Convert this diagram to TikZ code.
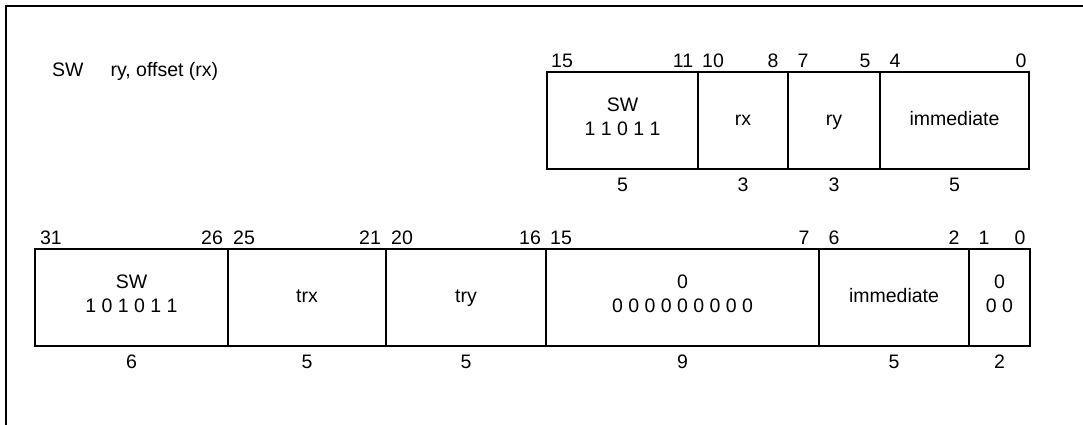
\documentclass[tikz,border=0pt]{standalone}
\usepackage{fontspec}
\setmainfont{Liberation Sans}
\usepackage{tikz}
\usetikzlibrary{positioning}

\begin{document}
\begin{tikzpicture}[
  x=1pt, y=1pt,
  field/.style={rectangle, draw, line width=1.8pt, outer sep=0pt, inner sep=0pt,
                minimum height=97pt, align=center, execute at end node=\strut,
                font=\fontsize{19.5pt}{24pt}\selectfont},
  bitno/.style={inner sep=0pt, font=\fontsize{19.5pt}{24pt}\selectfont},
  frame/.style={line width=2.5pt}
]
  \useasboundingbox (0,0) rectangle (1083,425);
  \draw[frame] (6,0) -- (6,419) -- (1083,419);

  \node[bitno, anchor=west] (asm) at (52,354) {SW\hspace{27pt}ry, offset (rx)};

  \node[field, minimum width=151pt] (sw16) at (622.5,304.5) {SW\\1 1 0 1 1};
  \node[field, minimum width=90pt, right=0pt of sw16] (rx16) {rx};
  \node[field, minimum width=92pt, right=0pt of rx16] (ry16) {ry};
  \node[field, minimum width=149pt, right=0pt of ry16] (imm16) {immediate};

  \node[bitno] (t15) at ([xshift=15pt, yshift=11pt]sw16.north west) {15};
  \node[bitno] (t11) at ([xshift=-15pt, yshift=11pt]sw16.north east) {11};
  \node[bitno] (t10) at ([xshift=15pt, yshift=11pt]rx16.north west) {10};
  \node[bitno] (t8) at ([xshift=-15pt, yshift=11pt]rx16.north east) {8};
  \node[bitno] (t7) at ([xshift=15pt, yshift=11pt]ry16.north west) {7};
  \node[bitno] (t5) at ([xshift=-15pt, yshift=11pt]ry16.north east) {5};
  \node[bitno] (t4) at ([xshift=15pt, yshift=11pt]imm16.north west) {4};
  \node[bitno] (t0) at ([xshift=-8pt, yshift=11pt]imm16.north east) {0};

  \node[bitno] (w1) at ([yshift=-16pt]sw16.south) {5};
  \node[bitno] (w2) at ([yshift=-16pt]rx16.south) {3};
  \node[bitno] (w3) at ([yshift=-16pt]ry16.south) {3};
  \node[bitno] (w4) at ([yshift=-16pt]imm16.south) {5};

  \node[field, minimum width=193pt] (sw32) at (131.5,127.5) {SW\\1 0 1 0 1 1};
  \node[field, minimum width=158pt, right=0pt of sw32] (trx) {trx};
  \node[field, minimum width=160pt, right=0pt of trx] (try) {try};
  \node[field, minimum width=273pt, right=0pt of try] (zero) {0\\0 0 0 0 0 0 0 0 0};
  \node[field, minimum width=150pt, right=0pt of zero] (imm32) {immediate};
  \node[field, minimum width=61pt, right=0pt of imm32] (low) {0\\0 0};

  \node[bitno] (b31) at ([xshift=16pt, yshift=11pt]sw32.north west) {31};
  \node[bitno] (b26) at ([xshift=-16pt, yshift=11pt]sw32.north east) {26};
  \node[bitno] (b25) at ([xshift=16pt, yshift=11pt]trx.north west) {25};
  \node[bitno] (b21) at ([xshift=-16pt, yshift=11pt]trx.north east) {21};
  \node[bitno] (b20) at ([xshift=16pt, yshift=11pt]try.north west) {20};
  \node[bitno] (b16) at ([xshift=-16pt, yshift=11pt]try.north east) {16};
  \node[bitno] (b15) at ([xshift=15pt, yshift=11pt]zero.north west) {15};
  \node[bitno] (b7) at ([xshift=-15pt, yshift=11pt]zero.north east) {7};
  \node[bitno] (b6) at ([xshift=15pt, yshift=11pt]imm32.north west) {6};
  \node[bitno] (b2) at ([xshift=-15pt, yshift=11pt]imm32.north east) {2};
  \node[bitno] (b1) at ([xshift=15pt, yshift=11pt]low.north west) {1};
  \node[bitno] (b0) at ([xshift=-10pt, yshift=11pt]low.north east) {0};

  \node[bitno] (v1) at ([yshift=-16pt]sw32.south) {6};
  \node[bitno] (v2) at ([yshift=-16pt]trx.south) {5};
  \node[bitno] (v3) at ([yshift=-16pt]try.south) {5};
  \node[bitno] (v4) at ([yshift=-16pt]zero.south) {9};
  \node[bitno] (v5) at ([yshift=-16pt]imm32.south) {5};
  \node[bitno] (v6) at ([yshift=-16pt]low.south) {2};
\end{tikzpicture}
\end{document}
